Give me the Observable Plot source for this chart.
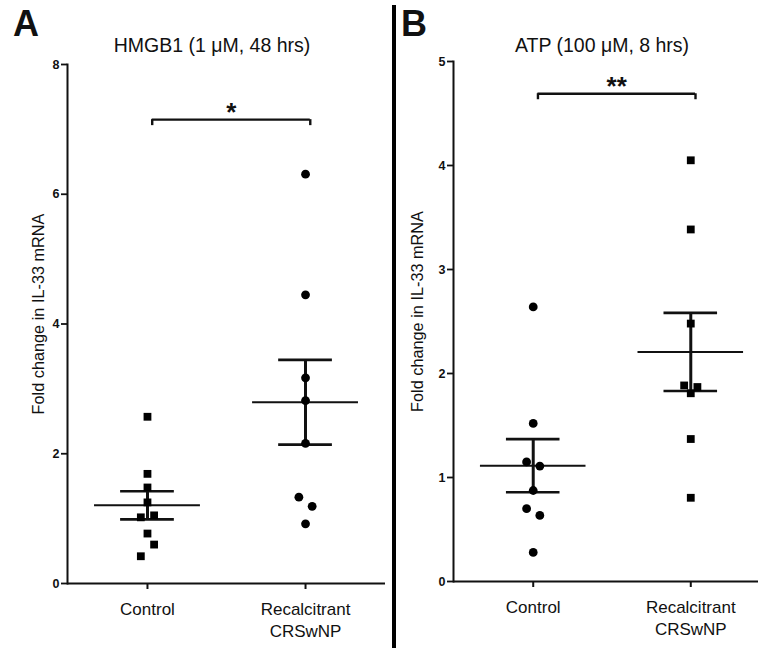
<!DOCTYPE html>
<html><head><meta charset="utf-8">
<script src="https://cdn.jsdelivr.net/npm/d3@7"></script>
<script src="https://cdn.jsdelivr.net/npm/@observablehq/plot@0.6"></script>
<style>
body{margin:0;background:#fff;}
#wrap{position:relative;width:758px;height:648px;overflow:hidden;font-family:"Liberation Sans",Arial,sans-serif;color:#111;background:#fff;}
.panel{position:absolute;top:0;height:648px;}
.letter{position:absolute;top:5.5px;font-weight:bold;font-size:36px;line-height:1;}
.title{position:absolute;top:35.5px;font-size:19.5px;line-height:1;white-space:nowrap;transform:translateX(-50%);}
.divider{position:absolute;left:392px;top:5px;width:4px;height:643px;background:#000;}
</style></head>
<body><div id="wrap"></div>
<script>
// ---- data ----
const categories = ["Control", "Recalcitrant\nCRSwNP"];
const yLabel = "Fold change in IL-33 mRNA";

const titleA = "HMGB1 (1 μM, 48 hrs)";
const hmgbControl     = [2.57, 1.69, 1.48, 1.25, 1.02, 1.05, 0.77, 0.60, 0.42];
const hmgbControlLane = [0, 0, 0, 0, -1, 1, 0, 1, -1];
const hmgbRecalc      = [6.31, 4.45, 3.17, 2.82, 2.16, 1.33, 1.19, 0.92];
const hmgbRecalcLane  = [0, 0, 0, 0, 0, -1, 1, 0];
const yTicksA = [0, 2, 4, 6, 8];
const sigA = {y: 7.15, label: "*"};

const titleB = "ATP (100 μM, 8 hrs)";
const atpControl     = [2.64, 1.52, 1.15, 1.11, 0.875, 0.70, 0.635, 0.28];
const atpControlLane = [0, 0, -1, 1, 0, -1, 1, 0];
const atpRecalc      = [4.05, 3.385, 2.48, 1.885, 1.87, 1.81, 1.37, 0.805];
const atpRecalcLane  = [0, 0, 0, -1, 1, 0, 0, 0];
const yTicksB = [0, 1, 2, 3, 4, 5];
const sigB = {y: 4.69, label: "**"};

// ---- helpers ----
function group(values, lanes, i, symbol) {
  return values.map((v, k) => ({i, v, lane: lanes[k], symbol}));
}
function stats(values, i) {
  const m = d3.mean(values);
  const sem = d3.deviation(values) / Math.sqrt(values.length);
  return {i, mean: m, lo: m - sem, hi: m + sem};
}

function makePanel(cfg) {
  const pts = [
    ...group(cfg.ctrl, cfg.ctrlLane, 0, cfg.ctrlSymbol),
    ...group(cfg.rec, cfg.recLane, 1, cfg.recSymbol)
  ];
  const st = [stats(cfg.ctrl, 0), stats(cfg.rec, 1)];
  const laneW = 0.042, meanHalf = 0.335, semHalf = 0.17;
  return Plot.plot({
    width: cfg.width, height: 648,
    marginLeft: cfg.marginLeft, marginRight: cfg.marginRight,
    marginTop: cfg.marginTop, marginBottom: cfg.marginBottom,
    style: {background: "transparent", fontFamily: '"Liberation Sans", Arial, sans-serif', color: "#111", overflow: "visible"},
    x: {domain: [-0.506, 1.506], axis: null},
    y: {domain: cfg.yDomain, axis: null},
    marks: [
      // axes
      Plot.axisY({ticks: cfg.yTicks, tickFormat: d3.format("d"), tickSize: 6, tickPadding: 2, fontSize: 12.5, fontWeight: "bold", strokeWidth: 1.8, label: null}),
      Plot.axisX({ticks: [0, 1], tickSize: 6, tickFormat: () => "", strokeWidth: 2, label: null}),
      Plot.text(categories, {x: (d, k) => k, frameAnchor: "bottom", lineAnchor: "top", dy: 16, fontSize: 17, lineHeight: 1.29, fill: "#111"}),
      Plot.text([yLabel], {frameAnchor: "left", textAnchor: "middle", lineAnchor: "middle", rotate: -90, dx: cfg.labelDx, dy: -10, fontSize: 16.3, fill: "#111"}),
      Plot.frame({anchor: "left", strokeWidth: 2}),
      Plot.ruleY([0], {strokeWidth: 2}),
      // mean and SEM
      Plot.ruleY(st, {x1: d => d.i - meanHalf, x2: d => d.i + meanHalf, y: "mean", strokeWidth: 2}),
      Plot.ruleY(st, {x1: d => d.i - semHalf, x2: d => d.i + semHalf, y: "lo", strokeWidth: 2.6}),
      Plot.ruleY(st, {x1: d => d.i - semHalf, x2: d => d.i + semHalf, y: "hi", strokeWidth: 2.6}),
      Plot.ruleX(st, {x: "i", y1: "lo", y2: "hi", strokeWidth: 3}),
      // points
      Plot.dot(pts, {x: d => d.i + d.lane * laneW, y: "v", symbol: "symbol", r: 4.4, fill: "#000", stroke: null}),
      // significance bracket
      Plot.ruleY([cfg.sig], {x1: 0.03, x2: 1.03, y: "y", strokeWidth: 2.4}),
      Plot.ruleX([0.03, 1.03], {x: d => d, y1: () => cfg.sig.y, y2: () => cfg.sig.y, insetBottom: -6, strokeWidth: 2.4}),
      Plot.text([cfg.sig], {x: 0.53, y: "y", text: "label", fontSize: 26, fontWeight: "bold", dy: -7, fill: "#111"})
    ]
  });
}

const wrap = document.getElementById("wrap");

// Panel A
const pa = document.createElement("div");
pa.className = "panel"; pa.style.left = "0px"; pa.style.width = "392px";
pa.appendChild(makePanel({
  width: 392, marginLeft: 67, marginRight: 7, marginTop: 64, marginBottom: 65,
  yDomain: [0, 8], yTicks: yTicksA, labelDx: -29,
  ctrl: hmgbControl, ctrlLane: hmgbControlLane, ctrlSymbol: "square",
  rec: hmgbRecalc, recLane: hmgbRecalcLane, recSymbol: "circle",
  sig: sigA
}));
wrap.appendChild(pa);

// Panel B
const pb = document.createElement("div");
pb.className = "panel"; pb.style.left = "392px"; pb.style.width = "378px";
pb.appendChild(makePanel({
  width: 378, marginLeft: 61, marginRight: 0, marginTop: 61, marginBottom: 67,
  yDomain: [0, 5], yTicks: yTicksB, labelDx: -36,
  ctrl: atpControl, ctrlLane: atpControlLane, ctrlSymbol: "circle",
  rec: atpRecalc, recLane: atpRecalcLane, recSymbol: "square",
  sig: sigB
}));
wrap.appendChild(pb);

// Letters, titles, divider
function addDiv(cls, text, left) {
  const d = document.createElement("div");
  d.className = cls; d.textContent = text; d.style.left = left + "px";
  wrap.appendChild(d);
}
addDiv("letter", "A", 13);
addDiv("letter", "B", 401);
addDiv("title", titleA, 212);
addDiv("title", titleB, 602);
const dv = document.createElement("div"); dv.className = "divider"; wrap.appendChild(dv);
</script>
</body></html>
